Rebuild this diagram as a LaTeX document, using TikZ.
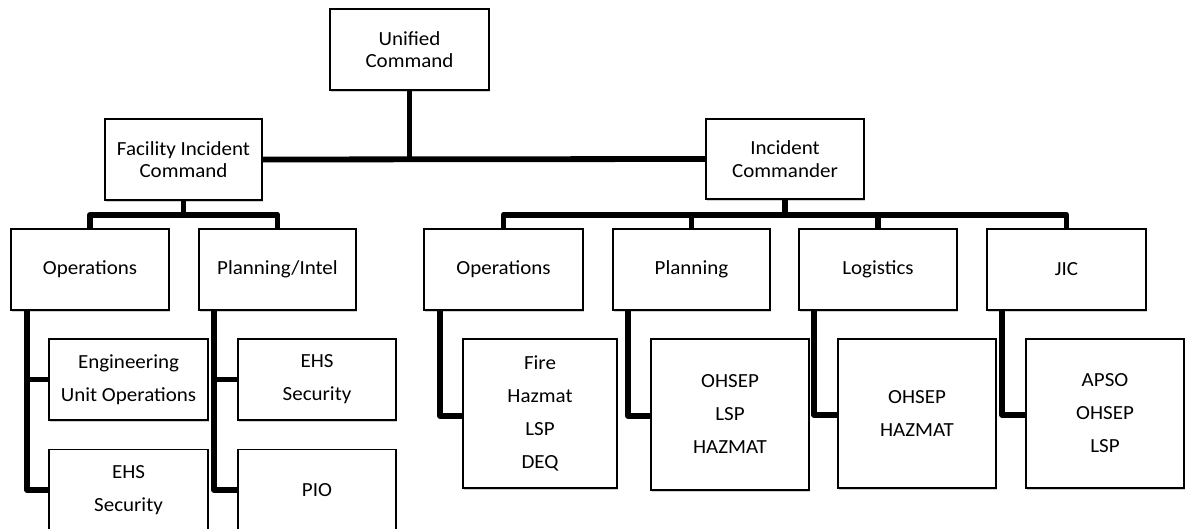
\documentclass[tikz,border=0pt]{standalone}
\usepackage{fontspec}
\newfontfamily\orgfont[FakeStretch=1.05]{Carlito}
\usetikzlibrary{shadows}
\begin{document}
\begin{tikzpicture}[x=1pt,y=-1pt,
  box/.style={draw=black, line width=1.3pt, fill=white, inner sep=0pt, align=center,
    minimum width=158pt, minimum height=81pt,
    font=\orgfont\fontsize{20}{22.5}\selectfont,
    drop shadow={shadow xshift=1.2pt, shadow yshift=-1.6pt, fill=black!30, opacity=0.6}},
  tall/.style={box, font=\orgfont\fontsize{20}{33}\selectfont},
  conn/.style={line width=5.8pt, line join=round, draw=black}]
\useasboundingbox (0,0) rectangle (1186,529);
\fill[white] (0,0) rectangle (1186,529);

\coordinate (ucbus) at (409.5,159.5);
\coordinate (lbus) at (183.5,215);
\coordinate (rbus) at (785,215);

% top level
\node[box, minimum width=159pt] (uc) at (409.5,49.5) {Unified\\Command};
\node[box, minimum width=157pt] (fic) at (183.5,159.5) {Facility Incident\\Command};
\node[box, minimum height=80pt] (ic) at (785,159) {Incident\\Commander};

% second level, left
\node[box] (fo) at (90,269.5) {Operations};
\node[box, minimum width=157pt] (fpi) at (277.5,269.5) {Planning/Intel};

% second level, right
\node[box, minimum width=159pt] (ro) at (503.5,269.5) {Operations};
\node[box, minimum width=157pt] (rp) at (691.5,269.5) {Planning};
\node[box] (rl) at (878,269.5) {Logistics};
\node[box, minimum width=159pt] (rj) at (1066.5,269.5) {JIC};

% third level, left
\node[tall, minimum width=159pt] (eng) at (128.5,379.5) {Engineering\\Unit Operations};
\node[tall, minimum width=159pt] (ehsl) at (128.5,490) {EHS\\Security};
\node[tall] (ehsr) at (317,379.5) {EHS\\Security};
\node[tall] (pio) at (317,490) {PIO};

% third level, right
\node[tall, minimum width=154pt, minimum height=149pt] (fire) at (540,413.5) {Fire\\Hazmat\\LSP\\DEQ};
\node[tall, minimum height=151pt] (ohp) at (730,414.5) {OHSEP\\LSP\\HAZMAT};
\node[tall, minimum height=149pt] (ohl) at (917,413.5) {OHSEP\\HAZMAT};
\node[tall, minimum height=149pt] (apso) at (1105,413.5) {APSO\\OHSEP\\LSP};

% connectors
\draw[conn] (uc.south) -- (ucbus);
\draw[conn] (fic.east) -- (ic.west);
\draw[conn] (fic.south) -- (lbus);
\draw[conn] (fo.north) |- (lbus) -| (fpi.north);
\draw[conn] (ic.south) -- (rbus);
\draw[conn] (ro.north) |- (rbus) -| (rj.north);
\draw[conn] (rp.north) -- (rp.north |- rbus);
\draw[conn] (rl.north) -- (rl.north |- rbus);

\draw[conn] ([xshift=17pt]fo.south west) |- (eng.west);
\draw[conn] ([xshift=17pt]fo.south west) |- (ehsl.west);
\draw[conn] ([xshift=16pt]fpi.south west) |- (ehsr.west);
\draw[conn] ([xshift=16pt]fpi.south west) |- (pio.west);

\draw[conn] ([xshift=17pt]ro.south west) |- ([yshift=-2.5pt]fire.west);
\draw[conn] ([xshift=16pt]rp.south west) |- ([yshift=-1.5pt]ohp.west);
\draw[conn] ([xshift=16pt]rl.south west) |- ([yshift=-1.5pt]ohl.west);
\draw[conn] ([xshift=16pt]rj.south west) |- ([yshift=-1.5pt]apso.west);
\end{tikzpicture}
\end{document}
